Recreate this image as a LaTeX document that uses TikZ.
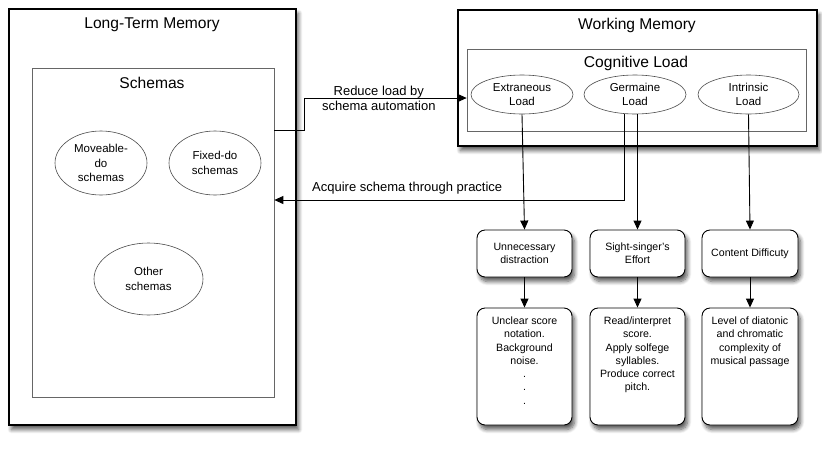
\documentclass[tikz,border=0pt]{standalone}
\usepackage{fontspec}
\setmainfont{Liberation Sans}
\usetikzlibrary{arrows.meta,positioning,shapes.geometric,shadows.blur}

\begin{document}
\begin{tikzpicture}[
    x=1pt, y=-1pt,
    memory/.style={draw=black, line width=1.4pt, fill=white, inner sep=0pt,
        blur shadow={shadow xshift=2.5pt, shadow yshift=-4.5pt, shadow blur radius=4pt, shadow blur steps=8, shadow opacity=65}},
    frame/.style={draw=black!60, line width=0.7pt, inner sep=0pt},
    schema/.style={ellipse, draw=black!70, line width=0.6pt, inner sep=0pt, align=center,
        font=\fontsize{11.5}{14.5}\selectfont},
    loadbox/.style={rectangle, rounded corners=8pt, draw=black, line width=0.9pt, fill=white,
        minimum width=95pt, inner sep=0pt, align=center, font=\fontsize{10.6}{12.8}\selectfont,
        blur shadow={shadow xshift=2.5pt, shadow yshift=-4.5pt, shadow blur radius=4pt, shadow blur steps=8, shadow opacity=65}},
    boxtext/.style={align=center, inner sep=0pt, font=\fontsize{10.6}{13.3}\selectfont},
    title/.style={font=\fontsize{15.6}{18}\selectfont},
    flow/.style={-{Triangle[length=9pt,width=8pt]}, line width=0.9pt},
    flowtext/.style={align=center, inner sep=0pt, font=\fontsize{13}{15}\selectfont}
]
\useasboundingbox (0,0) rectangle (822,456);

% Long-term memory
\node[memory, minimum width=287pt, minimum height=416pt] (ltm) at (152.5,217) {};
\node[title] (ltmtitle) at (152,25) {Long-Term Memory};
\node[frame, minimum width=242pt, minimum height=329pt] (sch) at (153,232.5) {};
\node[title] (schtitle) at (152,83) {Schemas};

% schemas
\node[schema, minimum width=92pt, minimum height=64pt] (movdo) at (101,163) {Moveable-\\do\\schemas};
\node[schema, minimum width=92pt, minimum height=64pt] (fixdo) at (215,163) {Fixed-do\\schemas};
\node[schema, minimum width=109pt, minimum height=72pt] (other) at (148.5,279) {Other\\schemas};

% Working memory
\node[memory, minimum width=359pt, minimum height=136pt] (wm) at (637.5,78) {};
\node[title] (wmtitle) at (637,25) {Working Memory};
\node[frame, minimum width=339pt, minimum height=82pt] (cog) at (636.5,90) {};
\node[title] (cogtitle) at (636,63) {Cognitive Load};

% loads
\node[schema, minimum width=102pt, minimum height=39pt] (ext) at (522,94.5) {Extraneous\\Load};
\node[schema, minimum width=102pt, minimum height=39pt] (ger) at (635,94.5) {Germaine\\Load};
\node[schema, minimum width=101pt, minimum height=39pt] (intr) at (748.5,94.5) {Intrinsic\\Load};

% load sources
\node[loadbox, minimum height=47pt] (dist) at (524.5,253.5) {Unnecessary\\distraction};
\node[loadbox, minimum height=47pt] (eff) at (637.5,253.5) {Sight-singer's\\Effort};
\node[loadbox, minimum height=47pt, minimum width=96pt] (diff) at (750,253.5) {Content Difficuty};

% details
\node[loadbox, minimum height=117pt] (det1) at (524.5,366.5) {};
\node[loadbox, minimum height=117pt] (det2) at (637.5,366.5) {};
\node[loadbox, minimum height=117pt, minimum width=96pt] (det3) at (750,366.5) {};
\node[boxtext, anchor=north] (txt1) at ([yshift=-9pt]det1.north) {Unclear score\\notation.\\Background\\noise.\\.\\.\\.};
\node[boxtext, anchor=north] (txt2) at ([yshift=-9pt]det2.north) {Read/interpret\\score.\\Apply solfege\\syllables.\\Produce correct\\pitch.};
\node[boxtext, anchor=north] (txt3) at ([yshift=-9pt]det3.north) {Level of diatonic\\and chromatic\\complexity of\\musical passage};

% connectors
\coordinate (r1) at (304,130);
\coordinate (r2) at (304,98);
\draw[flow] (sch.east |- r1) -- (r1) -- (r2) -- node[flowtext, pos=0.46] {Reduce load by\\schema automation} (cog.west |- r2);

\coordinate (a1) at (624,200);
\draw[flow] (ger.south -| a1) -- (a1) -- node[flowtext, above=5pt, pos=0.62] {Acquire schema through practice} (sch.east |- a1);

\draw[flow] (ext.south) -- (dist.north);
\draw[flow] (ger.south -| eff.north) -- (eff.north);
\draw[flow] (intr.south) -- (diff.north);

\draw[flow] (dist.south) -- (det1.north);
\draw[flow] (eff.south) -- (det2.north);
\draw[flow] (diff.south) -- (det3.north);

\end{tikzpicture}
\end{document}
